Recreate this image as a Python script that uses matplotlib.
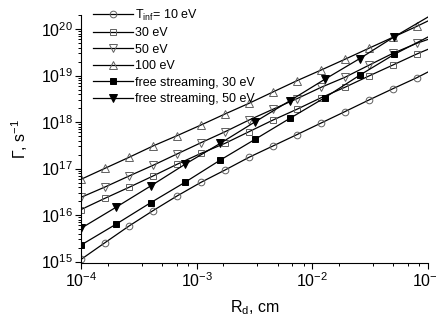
import numpy as np
import matplotlib
matplotlib.use("Agg")
import matplotlib.pyplot as plt
from matplotlib.ticker import LogLocator, FixedLocator, NullFormatter

plt.rcParams['font.family'] = ['Liberation Sans', 'DejaVu Sans']
plt.rcParams['mathtext.fontset'] = 'custom'
plt.rcParams['mathtext.rm'] = 'Liberation Sans'
plt.rcParams['mathtext.it'] = 'Liberation Sans:italic'
plt.rcParams['mathtext.default'] = 'regular'

# dust radius, cm (last point = line end, no marker)
r_t = [1.0e-4, 1.61e-4, 2.60e-4, 4.19e-4, 6.75e-4, 1.09e-3, 1.76e-3, 2.83e-3,
       4.56e-3, 7.36e-3, 1.19e-2, 1.91e-2, 3.08e-2, 4.97e-2, 8.0e-2, 1.0e-1]
r_fs = [1e-4, 2e-4, 4e-4, 8e-4, 1.6e-3, 3.2e-3, 6.4e-3, 1.28e-2, 2.56e-2,
        5.12e-2, 1.0e-1]

# flux Gamma, s^-1
g_10 = [1.11e15, 2.54e15, 5.80e15, 1.24e16, 2.56e16, 5.05e16, 9.29e16, 1.74e17,
        3.05e17, 5.36e17, 9.51e17, 1.67e18, 2.97e18, 5.20e18, 8.97e18, 1.19e19]
g_30 = [1.31e16, 2.29e16, 3.94e16, 6.90e16, 1.23e17, 2.12e17, 3.48e17, 6.18e17,
        1.10e18, 1.88e18, 3.33e18, 5.57e18, 9.75e18, 1.68e19, 2.90e19, 3.66e19]
g_50 = [2.40e16, 4.00e16, 6.90e16, 1.17e17, 2.05e17, 3.59e17, 6.18e17, 1.10e18,
        1.88e18, 3.17e18, 5.57e18, 9.14e18, 1.66e19, 3.00e19, 4.92e19, 5.97e19]
g_100 = [5.86e16, 1.01e17, 1.74e17, 3.05e17, 5.07e17, 8.62e17, 1.49e18, 2.52e18,
         4.42e18, 7.73e18, 1.31e19, 2.23e19, 3.85e19, 6.63e19, 1.14e20, 1.49e20]
g_fs30 = [2.26e15, 6.31e15, 1.84e16, 5.13e16, 1.52e17, 4.25e17, 1.20e18, 3.33e18,
          1.01e19, 2.86e19, 6.73e19]
g_fs50 = [5.18e15, 1.46e16, 4.21e16, 1.25e17, 3.48e17, 1.01e18, 2.87e18, 8.28e18,
          2.30e19, 6.83e19, 1.81e20]

labels = ['T$_{inf}$= 10 eV', '30 eV', '50 eV', '100 eV',
          'free streaming, 30 eV', 'free streaming, 50 eV']

fig = plt.figure(figsize=(4.36, 3.21), dpi=100)
ax = fig.add_axes([81/436, 58/321, 347/436, 248/321])

grey = '#606060'
series = [
    (r_t, g_10, 'o', 'none', grey, 4.8),
    (r_t, g_30, 's', 'none', grey, 4.6),
    (r_t, g_50, 'v', 'none', grey, 5.4),
    (r_t, g_100, '^', 'none', grey, 5.4),
    (r_fs, g_fs30, 's', 'black', 'black', 4.3),
    (r_fs, g_fs50, 'v', 'black', 'black', 5.4),
]
for (x, y, m, fc, ec, ms), lab in zip(series, labels):
    ax.plot(x, y, color='black', lw=0.9, marker=m, mfc=fc, mec=ec, mew=0.7,
            ms=ms, markevery=slice(0, len(x) - 1), label=lab)

ax.set_xscale('log')
ax.set_yscale('log')
ax.set_xlim(1e-4, 1e-1)
ax.set_ylim(9.3e14, 2.0e20)

for s in ['top', 'right']:
    ax.spines[s].set_visible(False)

ax.yaxis.set_major_locator(LogLocator(base=10, numticks=10))
ax.yaxis.set_minor_locator(LogLocator(base=10, subs=np.arange(2, 10), numticks=20))
ax.yaxis.set_minor_formatter(NullFormatter())
x_minor = [d * m for d in [1e-4, 1e-3, 1e-2] for m in [1.7, 3.35, 5.0, 6.7, 8.4]]
ax.xaxis.set_minor_locator(FixedLocator(x_minor))
ax.xaxis.set_minor_formatter(NullFormatter())

ax.tick_params(which='major', direction='out', length=4, width=0.8,
               labelsize=11.5, pad=2)
ax.tick_params(which='minor', direction='out', length=2, width=0.7)

ax.set_xlabel('R$_d$, cm', fontsize=11.5, labelpad=6)
ax.set_ylabel('Γ, s$^{-1}$', fontsize=11.5, labelpad=8)

ax.legend(loc='upper left', bbox_to_anchor=(0.034, 1.03), frameon=False,
          fontsize=9, handlelength=3.2, handletextpad=0.2, labelspacing=0.36,
          borderpad=0, borderaxespad=0)

fig.savefig('out.png', dpi=100)
